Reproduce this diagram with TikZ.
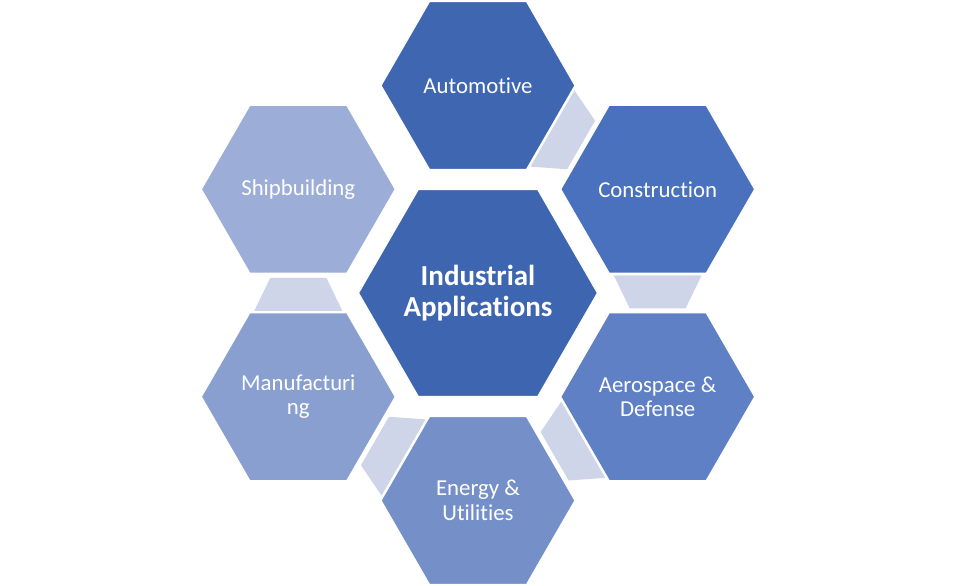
\documentclass[tikz,border=0pt]{standalone}
\usepackage{fontspec}
\setmainfont{Carlito}[Ligatures=NoCommon]
\usetikzlibrary{shapes.geometric,calc,backgrounds}
\definecolor{ccore}{HTML}{3D65B0}
\definecolor{cauto}{HTML}{3F66B1}
\definecolor{ccons}{HTML}{4A71BE}
\definecolor{caero}{HTML}{6080C5}
\definecolor{cener}{HTML}{7590C9}
\definecolor{cmanu}{HTML}{889FD0}
\definecolor{cship}{HTML}{9CADD8}
\definecolor{cconn}{HTML}{CED5E9}
\newcommand{\hexconn}[2]{%
  \coordinate (#1#2w) at ($(#1)!86pt!(#2)$);
  \coordinate (#1#2n) at ($(#1)!119pt!(#2)$);
  \fill[cconn] ($(#1#2w)!44pt!90:(#2)$) -- ($(#1#2w)!44pt!-90:(#2)$)
     -- ($(#1#2n)!28pt!-90:(#2)$) -- ($(#1#2n)!28pt!90:(#2)$) -- cycle;}
\begin{document}
\begin{tikzpicture}[x=1pt,y=-1pt,
  hexa/.style={regular polygon, regular polygon sides=6, draw=white,
    line width=1.2pt, inner sep=0pt, minimum size=#1},
  lab/.style={text=white, align=center, inner sep=0pt,
    font=\fontsize{22.8}{24.5}\selectfont},
  corelab/.style={text=white, align=center, inner sep=0pt,
    font=\bfseries\fontsize{29}{31.5}\selectfont}]
\useasboundingbox (0,0) rectangle (956,586);
\node[hexa=239pt, fill=ccore] (core) at (478,293) {};
\node[hexa=194pt, fill=cauto] (auto) at (478,85.5) {};
\node[hexa=194pt, fill=ccons] (cons) at (657.7,189.25) {};
\node[hexa=194pt, fill=caero] (aero) at (657.7,396.75) {};
\node[hexa=194pt, fill=cener] (ener) at (478,500.5) {};
\node[hexa=194pt, fill=cmanu] (manu) at (298.3,396.75) {};
\node[hexa=194pt, fill=cship] (ship) at (298.3,189.25) {};
\begin{scope}[on background layer]
  \fill[white] (0,0) rectangle (956,586);
  \hexconn{auto}{cons}
  \hexconn{cons}{aero}
  \hexconn{aero}{ener}
  \hexconn{ener}{manu}
  \hexconn{manu}{ship}
\end{scope}
\node[corelab] (coret) at (core.center) {Industrial\\Applications};
\node[lab] (autot) at (auto.center) {Automotive};
\node[lab] (const) at (cons.center) {Construction};
\node[lab] (aerot) at (aero.center) {Aerospace \&\\Defense};
\node[lab] (enert) at (ener.center) {Energy \&\\Utilities};
\node[lab] (manut) at (manu.center) {Manufacturi\\ng};
\node[lab] (shipt) at (ship.center) {Shipbuilding};
\end{tikzpicture}
\end{document}
